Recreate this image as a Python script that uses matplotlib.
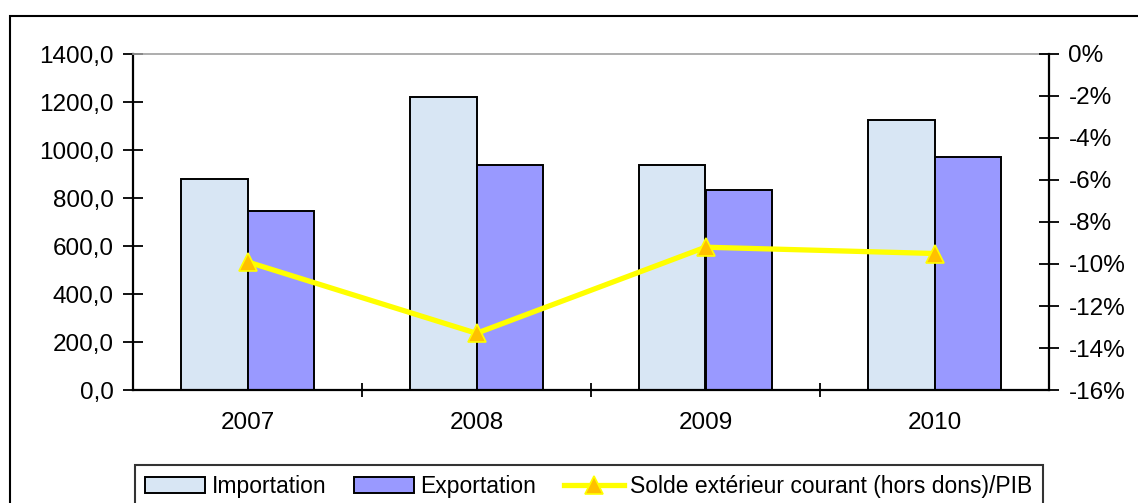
import matplotlib
matplotlib.use("Agg")
import matplotlib.pyplot as plt
import numpy as np
from matplotlib.patches import Rectangle
from matplotlib.ticker import FuncFormatter

plt.rcParams["font.family"] = ["Liberation Sans", "DejaVu Sans"]

years = ["2007", "2008", "2009", "2010"]
importation = [879, 1222, 937, 1125]
exportation = [746, 937, 835, 971]
solde_pib = [-9.9, -13.3, -9.2, -9.5]

FS = 16.5
TFS = 17.5
W, H = 1138, 503

fig = plt.figure(figsize=(W / 100, H / 100), dpi=100)
ax = fig.add_axes([133 / W, 1 - 390 / H, (1049 - 133) / W, (390 - 54) / H])

# outer chart border (extends past the right and bottom edge)
fig.patches.append(Rectangle((10 / W, -0.1), 1.2, 1 - 16 / H + 0.1,
                             transform=fig.transFigure, fill=False,
                             edgecolor="black", linewidth=1.5))

x = np.arange(len(years))
bw = 0.29
b1 = ax.bar(x - bw / 2, importation, bw, color="#D8E6F4", edgecolor="black",
            linewidth=1.4, label="Importation", zorder=2)
b2 = ax.bar(x + bw / 2, exportation, bw, color="#9999FF", edgecolor="black",
            linewidth=1.4, label="Exportation", zorder=2)

ax.set_xlim(-0.5, len(years) - 0.5)
ax.set_ylim(0, 1400)
ax.set_yticks(np.arange(0, 1401, 200))
ax.yaxis.set_major_formatter(FuncFormatter(lambda v, p: f"{v:.1f}".replace(".", ",")))
ax.set_xticks(x[:-1] + 0.5)
ax.set_xticklabels([])
ax.set_xticks(x, minor=True)
ax.set_xticklabels(years, minor=True)
ax.tick_params(axis="x", which="major", direction="inout", length=10, width=1.3)
ax.tick_params(axis="x", which="minor", length=0, pad=16, labelsize=TFS)
ax.tick_params(axis="y", direction="inout", length=14, width=1.3, labelsize=TFS, pad=7)

for s in ["left", "bottom"]:
    ax.spines[s].set_linewidth(1.6)
ax.spines["top"].set_color("#A0A0A0")
ax.spines["top"].set_linewidth(1.2)
ax.spines["right"].set_visible(False)

ax2 = ax.twinx()
ax2.set_ylim(-16, 0)
ax2.set_yticks(np.arange(-16, 1, 2))
ax2.yaxis.set_major_formatter(FuncFormatter(lambda v, p: f"{v:.0f}%"))
ax2.tick_params(axis="y", direction="inout", length=14, width=1.3, labelsize=TFS, pad=7)
for s in ["left", "top", "bottom"]:
    ax2.spines[s].set_visible(False)
ax2.spines["right"].set_linewidth(1.6)
line, = ax2.plot(x, solde_pib, color="#FFFF00", linewidth=3.8, marker="^",
                 markersize=13, markerfacecolor="#FFC000",
                 markeredgecolor="#FFFF00", markeredgewidth=1.2,
                 label="Solde extérieur courant (hors dons)/PIB", zorder=3)

leg = fig.legend(handles=[b1, b2, line], loc="upper left",
                 bbox_to_anchor=(135 / W, 1 - 465 / H, (1043 - 135) / W, 0),
                 mode="expand", ncol=3, fontsize=FS, frameon=True,
                 fancybox=False, borderaxespad=0, handlelength=2.6,
                 handletextpad=0.3, columnspacing=0.6, borderpad=0.45)
leg.get_frame().set_edgecolor("black")
leg.get_frame().set_linewidth(1.5)

fig.savefig("out.png", dpi=100)
